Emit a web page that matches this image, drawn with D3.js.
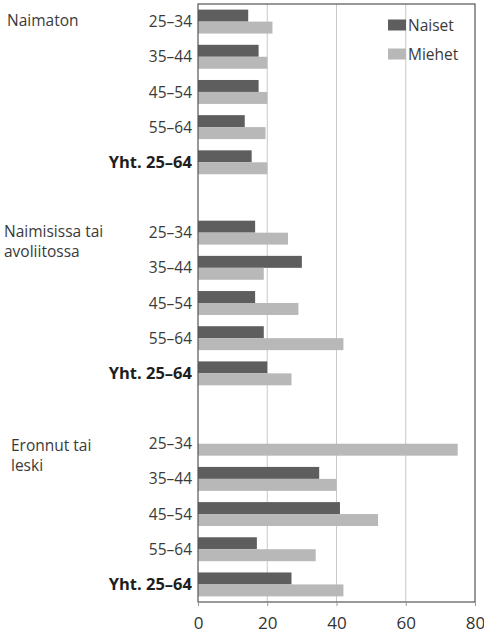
<!DOCTYPE html>
<html>
<head>
<meta charset="utf-8">
<script src="https://cdn.jsdelivr.net/npm/d3@7"></script>
<style>
  html, body { margin: 0; padding: 0; background: #ffffff; }
  svg { display: block; }
  text { font-family: "Open Sans", "Noto Sans", sans-serif; }
</style>
</head>
<body>
<svg id="chart" width="484" height="637"></svg>
<script>
const groups = [["Naimaton"], ["Naimisissa tai", "avoliitossa"], ["Eronnut tai", "leski"]];
const ages = ["25–34", "35–44", "45–54", "55–64", "Yht. 25–64"];
const seriesNames = ["Naiset", "Miehet"];
// values in group order: Naimaton, Naimisissa tai avoliitossa, Eronnut tai leski
const naiset = [14.5, 17.5, 17.5, 13.5, 15.5,  16.5, 30, 16.5, 19, 20,  null, 35, 41, 17, 27];
const miehet = [21.5, 20, 20, 19.5, 20,  26, 19, 29, 42, 27,  75, 40, 52, 34, 42];
const xTicks = [0, 20, 40, 60, 80];

const colors = { Naiset: "#5e5e5e", Miehet: "#b8b8b8" };

const svg = d3.select("#chart");
const plotLeft = 198, plotRight = 475, plotTop = 4, plotBottom = 602;

// build slots: 5 ages per group, blank slot between groups
const slots = [];
const rows = [];
groups.forEach((g, gi) => {
  ages.forEach((a, ai) => {
    const key = gi + "-" + ai;
    slots.push(key);
    const idx = gi * ages.length + ai;
    rows.push({ key, gi, ai, age: a, naiset: naiset[idx], miehet: miehet[idx] });
  });
  if (gi < groups.length - 1) slots.push("gap" + gi);
});

const x = d3.scaleLinear().domain([0, 80]).range([plotLeft, plotRight]);
const y = d3.scaleBand().domain(slots).range([plotTop, plotBottom]).paddingInner(0.32).paddingOuter(0.16);
const bw = y.bandwidth() / 2;

// gridlines
svg.append("g").selectAll("line").data(xTicks.filter(t => t > 0 && t < 80)).join("line")
  .attr("x1", d => x(d)).attr("x2", d => x(d))
  .attr("y1", plotTop).attr("y2", plotBottom)
  .attr("stroke", "#c8c8c8").attr("stroke-width", 1);

// bars
const barG = svg.append("g");
rows.forEach(r => {
  if (r.naiset != null) {
    barG.append("rect")
      .attr("x", x(0)).attr("y", y(r.key))
      .attr("width", x(r.naiset) - x(0)).attr("height", bw)
      .attr("fill", colors.Naiset);
  }
  if (r.miehet != null) {
    barG.append("rect")
      .attr("x", x(0)).attr("y", y(r.key) + bw)
      .attr("width", x(r.miehet) - x(0)).attr("height", bw)
      .attr("fill", colors.Miehet);
  }
});

// frame
svg.append("rect")
  .attr("x", plotLeft).attr("y", plotTop)
  .attr("width", plotRight - plotLeft).attr("height", plotBottom - plotTop)
  .attr("fill", "none").attr("stroke", "#555").attr("stroke-width", 1.2);

// x axis
const xAxis = svg.append("g").attr("transform", `translate(0,${plotBottom})`)
  .call(d3.axisBottom(x).tickValues(xTicks).tickSize(4).tickPadding(11).tickFormat(d3.format("d")));
xAxis.select(".domain").remove();
xAxis.selectAll(".tick line").attr("stroke", "#999");
xAxis.selectAll("text").attr("font-size", 17).attr("fill", "#333")
  .style("font-family", "'Open Sans', sans-serif");

// category labels
svg.append("g").selectAll("text").data(rows).join("text")
  .attr("x", 192)
  .attr("y", d => y(d.key) + y.bandwidth() / 2)
  .attr("dy", "0.36em")
  .attr("text-anchor", "end")
  .attr("font-size", d => d.ai === ages.length - 1 ? 16.5 : 15.5)
  .attr("font-weight", d => d.ai === ages.length - 1 ? "bold" : "normal")
  .attr("fill", d => d.ai === ages.length - 1 ? "#1e1e1e" : "#3a3a3a")
  .text(d => d.age);

// group labels
const groupLabelX = [7, 4, 11];
const groupLabelDy = [0, 0, 3];
groups.forEach((lines, gi) => {
  const firstKey = gi + "-0";
  const cy = y(firstKey) + y.bandwidth() / 2;
  const yStart = cy - 1 + groupLabelDy[gi];
  lines.forEach((ln, li) => {
    svg.append("text")
      .attr("x", groupLabelX[gi])
      .attr("y", yStart + li * 20)
      .attr("dy", "0.36em")
      .attr("font-size", 15.5)
      .attr("fill", "#3a3a3a")
      .text(ln);
  });
});

// legend
const legend = svg.append("g");
seriesNames.forEach((s, i) => {
  const cy = 25 + i * 29;
  legend.append("rect")
    .attr("x", 388).attr("y", cy - 5.5)
    .attr("width", 18).attr("height", 11)
    .attr("fill", colors[s]);
  legend.append("text")
    .attr("x", 408).attr("y", cy).attr("dy", "0.36em")
    .attr("font-size", 15.5).attr("fill", "#3a3a3a")
    .text(s);
});
</script>
</body>
</html>
